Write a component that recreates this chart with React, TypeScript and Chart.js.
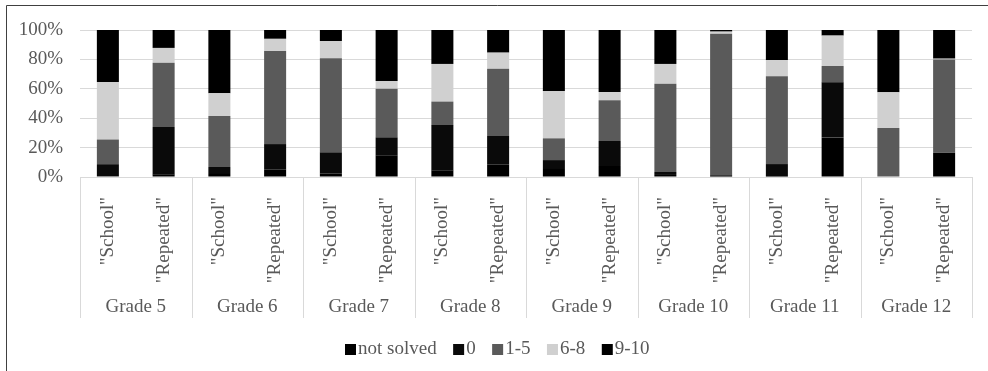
import React, { useEffect, useRef } from "react";
import { Chart, registerables } from "chart.js";

Chart.register(...registerables);

const grades = ["Grade 5", "Grade 6", "Grade 7", "Grade 8", "Grade 9", "Grade 10", "Grade 11", "Grade 12"];
const subLabels = ['"School"', '"Repeated"'];
const categories = grades.flatMap(() => subLabels);

const seriesNames = ["not solved", "0", "1-5", "6-8", "9-10"];
const seriesColors = ["#000000", "#0a0a0a", "#5a5a5a", "#d0d0d0", "#000000"];

const notSolved = [0.5, 1.6, 2.7, 5.2, 2.3, 14.8, 4.5, 8.6, 6.1, 7.5, 1.4, 0.3, 0.3, 26.8, 0, 16.6];
const zero = [8.2, 32.4, 4.1, 17.2, 14.5, 12.2, 30.8, 19.3, 5.4, 17.0, 2.0, 0.9, 8.5, 37.6, 0, 0];
const oneToFive = [16.8, 43.8, 34.7, 63.3, 63.9, 33.1, 16.0, 45.8, 14.8, 27.7, 60.1, 96.3, 59.7, 11.1, 33.3, 63.3];
const sixToEight = [39.2, 10.0, 15.5, 8.3, 11.8, 5.2, 25.6, 10.9, 32.2, 5.6, 13.4, 1.4, 11.1, 20.7, 24.3, 0.6];
const nineToTen = [35.3, 12.2, 43.0, 6.0, 7.5, 34.7, 23.1, 15.4, 41.5, 42.2, 23.1, 1.1, 20.4, 3.8, 42.4, 19.5];

const yTicks = [0, 20, 40, 60, 80, 100];

const FONT = '"Liberation Serif", "Times New Roman", serif';
const TEXT = "#595959";
const GRID = "#d9d9d9";

const decorPlugin = {
  id: "decor",
  afterDraw(chart: any) {
    const ctx = chart.ctx;
    const xs = chart.scales.x;
    const area = chart.chartArea;
    ctx.save();
    // frame
    ctx.strokeStyle = "#404040";
    ctx.lineWidth = 1;
    ctx.beginPath();
    ctx.moveTo(6.5, 371);
    ctx.lineTo(6.5, 5.5);
    ctx.lineTo(988, 5.5);
    ctx.stroke();

    // group separators and labels
    const n = categories.length;
    const step = (area.right - area.left) / n;
    ctx.strokeStyle = GRID;
    for (let g = 0; g <= grades.length; g++) {
      const x = Math.round(area.left + g * 2 * step) + 0.5;
      ctx.beginPath();
      ctx.moveTo(x, area.bottom);
      ctx.lineTo(x, 318);
      ctx.stroke();
    }
    ctx.fillStyle = TEXT;
    ctx.font = "19px " + FONT;
    ctx.textAlign = "center";
    ctx.textBaseline = "middle";
    grades.forEach((g, i) => {
      const cx = (xs.getPixelForValue(i * 2) + xs.getPixelForValue(i * 2 + 1)) / 2;
      ctx.fillText(g, cx, 307);
    });

    // legend
    let lx = 345;
    const ly = 349.5;
    ctx.textAlign = "left";
    chart.data.datasets.forEach((ds: any) => {
      ctx.fillStyle = ds.backgroundColor;
      ctx.fillRect(lx, 344, 11, 11);
      lx += 13;
      ctx.fillStyle = TEXT;
      ctx.fillText(ds.label, lx, ly);
      lx += ctx.measureText(ds.label).width + 16.5;
    });
    ctx.restore();
  },
};

export default function App() {
  const ref = useRef<HTMLCanvasElement>(null);
  useEffect(() => {
    document.body.style.margin = "0";
    const values = [notSolved, zero, oneToFive, sixToEight, nineToTen];
    const chart = new Chart(ref.current as HTMLCanvasElement, {
      type: "bar",
      data: {
        labels: categories,
        datasets: seriesNames.map((name, i) => ({
          label: name,
          data: values[i],
          backgroundColor: seriesColors[i],
          borderWidth: 0,
          categoryPercentage: 1,
          barPercentage: 0.395,
        })),
      },
      options: {
        responsive: false,
        animation: false,
        devicePixelRatio: 1,
        layout: { padding: { left: 0, right: 16, top: 30, bottom: 0 } },
        plugins: { legend: { display: false }, tooltip: { enabled: false } },
        scales: {
          x: {
            stacked: true,
            grid: { display: false, drawTicks: false },
            border: { display: true, color: GRID, width: 1 },
            ticks: {
              autoSkip: false,
              minRotation: 90,
              maxRotation: 90,
              padding: 20,
              color: TEXT,
              font: { family: FONT, size: 19 },
            },
            afterFit: (s: any) => {
              s.height = 371 - 177;
            },
          },
          y: {
            stacked: true,
            min: 0,
            max: 100,
            afterBuildTicks: (s: any) => {
              s.ticks = yTicks.map((v) => ({ value: v }));
            },
            grid: { color: GRID, lineWidth: 1, drawTicks: false },
            border: { display: false },
            ticks: {
              padding: 17,
              color: TEXT,
              font: { family: FONT, size: 19 },
              callback: (v: any) => v + "%",
            },
            afterFit: (s: any) => {
              s.width = 80;
            },
          },
        },
      },
      plugins: [decorPlugin],
    });
    return () => chart.destroy();
  }, []);
  return (
    <div style={{ position: "absolute", left: 0, top: 0, width: 988, height: 371, background: "#fff" }}>
      <canvas ref={ref} width={988} height={371} />
    </div>
  );
}
